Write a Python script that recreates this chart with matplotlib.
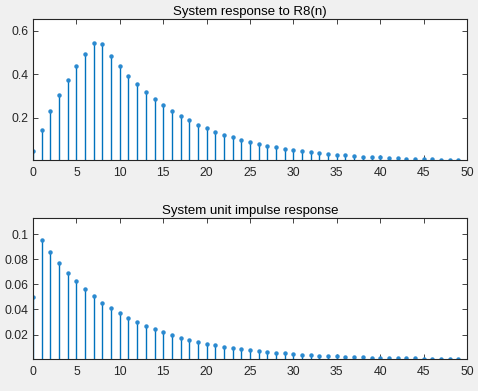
import numpy as np
import matplotlib
matplotlib.use("Agg")
import matplotlib.pyplot as plt

# sample index
n = np.arange(50)

# system response to R8(n)
y_r8 = [0.0500, 0.1450, 0.2305, 0.3075, 0.3767, 0.4390, 0.4951, 0.5456,
        0.5411, 0.4870, 0.4383, 0.3944, 0.3550, 0.3195, 0.2875, 0.2588,
        0.2329, 0.2096, 0.1887, 0.1698, 0.1528, 0.1375, 0.1238, 0.1114,
        0.1003, 0.0902, 0.0812, 0.0731, 0.0658, 0.0592, 0.0533, 0.0480,
        0.0432, 0.0388, 0.0350, 0.0315, 0.0283, 0.0255, 0.0229, 0.0206,
        0.0186, 0.0167, 0.0150, 0.0135, 0.0122, 0.0110, 0.0099, 0.0089,
        0.0080, 0.0072]

# unit impulse response
h = [0.0500, 0.0950, 0.0855, 0.0770, 0.0693, 0.0623, 0.0561, 0.0505,
     0.0454, 0.0409, 0.0368, 0.0331, 0.0298, 0.0268, 0.0241, 0.0217,
     0.0196, 0.0176, 0.0158, 0.0143, 0.0128, 0.0115, 0.0104, 0.0094,
     0.0084, 0.0076, 0.0068, 0.0061, 0.0055, 0.0050, 0.0045, 0.0040,
     0.0036, 0.0033, 0.0029, 0.0026, 0.0024, 0.0021, 0.0019, 0.0017,
     0.0016, 0.0014, 0.0013, 0.0011, 0.0010, 0.0009, 0.0008, 0.0007,
     0.0007, 0.0006]

plt.rcParams['font.family'] = ['Liberation Sans', 'DejaVu Sans']
blue = '#0072BD'
dark = '#262626'

fig = plt.figure(figsize=(4.78, 3.91), dpi=100, facecolor='#f0f0f0')
ax1 = fig.add_axes([0.069, 0.591, 0.908, 0.361])
ax2 = fig.add_axes([0.069, 0.082, 0.908, 0.361])


def stem_panel(ax, x, y, title, ylim, yticks, ylabels):
    markers, stems, base = ax.stem(x, y, basefmt=' ')
    plt.setp(stems, color=blue, linewidth=1.0)
    plt.setp(markers, color='#2b8ad0', markersize=2.2)
    ax.set_xlim(0, 50)
    ax.set_ylim(*ylim)
    ax.set_xticks(np.arange(0, 51, 5))
    ax.set_yticks(yticks)
    ax.set_yticklabels(ylabels)
    ax.tick_params(direction='in', length=3.5, width=0.6, colors=dark,
                   labelsize=8.8, top=True, right=True)
    ax.tick_params(axis='x', pad=5)
    for s in ax.spines.values():
        s.set_color(dark)
        s.set_linewidth(0.8)
    ax.set_title(title, fontsize=9.5, color='black', pad=3)


stem_panel(ax1, n, y_r8, 'System response to R8(n)', (0.0072, 0.656),
           [0.2, 0.4, 0.6], ['0.2', '0.4', '0.6'])
stem_panel(ax2, n, h, 'System unit impulse response', (0.0006, 0.1129),
           [0.02, 0.04, 0.06, 0.08, 0.1],
           ['0.02', '0.04', '0.06', '0.08', '0.1'])

fig.savefig('out.png', dpi=100, facecolor=fig.get_facecolor())
